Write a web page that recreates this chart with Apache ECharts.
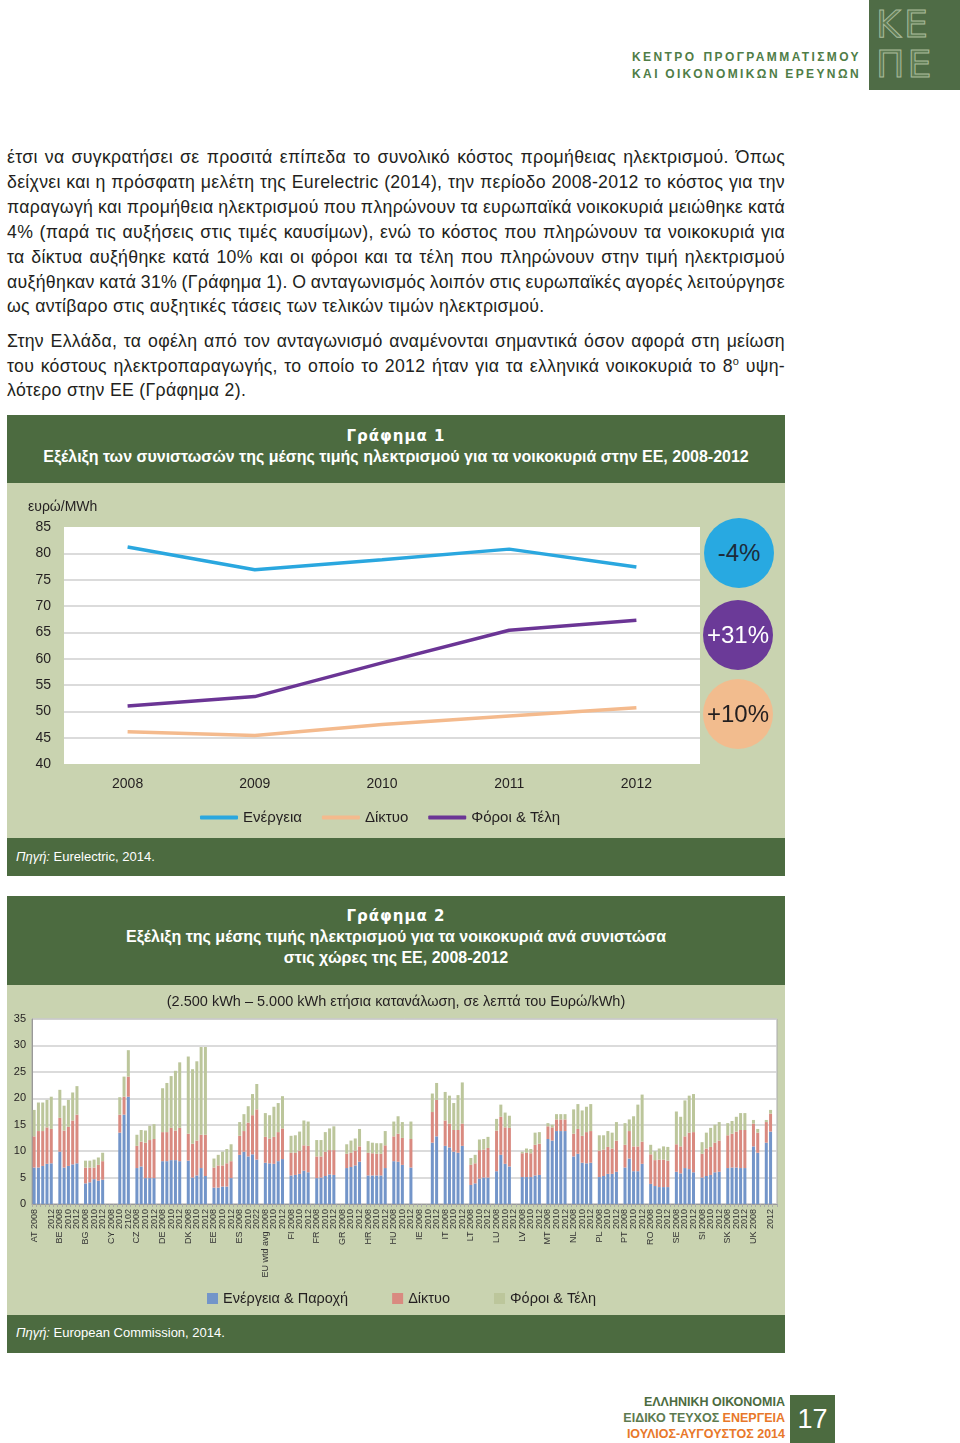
<!DOCTYPE html>
<html><head><meta charset="utf-8">
<script src="https://cdn.jsdelivr.net/npm/echarts@6/dist/echarts.min.js"></script>
<style>
html,body{margin:0;padding:0;background:#fff;}
body{width:960px;height:1443px;position:relative;overflow:hidden;font-family:'Liberation Sans',Arial,Helvetica,sans-serif;color:#231f20;}
.abs{position:absolute;}
.ln{position:absolute;left:7px;width:778px;font-size:17.7px;letter-spacing:0.3px;line-height:25px;height:25px;white-space:nowrap;text-align:left;}
.band{position:absolute;left:7px;width:778px;background:#4c6b40;color:#fff;}
.body{position:absolute;left:7px;width:778px;background:#c9d3b0;}
.gt{position:absolute;left:0;width:100%;text-align:center;font-family:'DejaVu Sans',sans-serif;font-weight:bold;font-size:15px;letter-spacing:1px;}
.st{position:absolute;left:0;width:100%;text-align:center;font-weight:bold;font-size:16px;}
.src{position:absolute;left:9px;font-size:13px;color:#fff;}
.circ{position:absolute;width:70px;height:70px;border-radius:50%;text-align:center;line-height:70px;font-size:24px;}
.hdr{position:absolute;left:632px;width:232px;font-size:12px;font-weight:bold;color:#4f7d47;letter-spacing:2.4px;white-space:nowrap;}
.ft{position:absolute;right:175px;font-size:12.5px;font-weight:bold;text-align:right;white-space:nowrap;}
</style>
</head><body>

<!-- header -->
<div class="abs" style="left:869px;top:0;width:91px;height:90px;background:#4f6c46;"></div>
<div class="abs" style="left:876px;top:4px;font-family:'DejaVu Sans',sans-serif;font-size:38px;line-height:40px;letter-spacing:3px;color:#5f7c54;-webkit-text-stroke:1px #a9bb9c;">ΚΕ<br>ΠΕ</div>
<div class="hdr fit" data-w="229" style="top:50px;">ΚΕΝΤΡΟ ΠΡΟΓΡΑΜΜΑΤΙΣΜΟΥ</div>
<div class="hdr fit" data-w="229" style="top:67px;">ΚΑΙ ΟΙΚΟΝΟΜΙΚΩΝ ΕΡΕΥΝΩΝ</div>

<!-- body text -->
<div class="ln fit" data-w="778" style="top:145px;">έτσι να συγκρατήσει σε προσιτά επίπεδα το συνολικό κόστος προμήθειας ηλεκτρισμού. Όπως</div>
<div class="ln fit" data-w="778" style="top:170px;">δείχνει και η πρόσφατη μελέτη της Eurelectric (2014), την περίοδο 2008-2012 το κόστος για την</div>
<div class="ln fit" data-w="778" style="top:195px;">παραγωγή και προμήθεια ηλεκτρισμού που πληρώνουν τα ευρωπαϊκά νοικοκυριά μειώθηκε κατά</div>
<div class="ln fit" data-w="778" style="top:220px;">4% (παρά τις αυξήσεις στις τιμές καυσίμων), ενώ το κόστος που πληρώνουν τα νοικοκυριά για</div>
<div class="ln fit" data-w="778" style="top:245px;">τα δίκτυα αυξήθηκε κατά 10% και οι φόροι και τα τέλη που πληρώνουν στην τιμή ηλεκτρισμού</div>
<div class="ln fit" data-w="778" style="top:270px;">αυξήθηκαν κατά 31% (Γράφημα 1). Ο ανταγωνισμός λοιπόν στις ευρωπαϊκές αγορές λειτούργησε</div>
<div class="ln" style="top:294px;">ως αντίβαρο στις αυξητικές τάσεις των τελικών τιμών ηλεκτρισμού.</div>
<div class="ln fit" data-w="778" style="top:329px;">Στην Ελλάδα, τα οφέλη από τον ανταγωνισμό αναμένονται σημαντικά όσον αφορά στη μείωση</div>
<div class="ln fit" data-w="778" style="top:354px;">του κόστους ηλεκτροπαραγωγής, το οποίο το 2012 ήταν για τα ελληνικά νοικοκυριά το 8<sup style="font-size:11px;line-height:0;">ο</sup> υψη-</div>
<div class="ln" style="top:378px;">λότερο στην ΕΕ (Γράφημα 2).</div>

<!-- chart 1 panel -->
<div class="band" style="top:415px;height:68px;">
  <div class="gt" style="top:12px;">Γράφημα 1</div>
  <div class="st" style="top:33px;">Εξέλιξη των συνιστωσών της μέσης τιμής ηλεκτρισμού για τα νοικοκυριά στην ΕΕ, 2008-2012</div>
</div>
<div id="c1" class="body" style="top:483px;height:355px;"></div>
<div class="band" style="top:838px;height:38px;"><div class="src" style="top:11px;"><i>Πηγή:</i> Eurelectric, 2014.</div></div>
<div class="circ" style="left:704px;top:518px;background:#28a9e1;color:#1d2b3a;">-4%</div>
<div class="circ" style="left:703px;top:600px;background:#6b3a98;color:#fff;">+31%</div>
<div class="circ" style="left:703px;top:679px;background:#f2bc8e;color:#231f20;">+10%</div>

<!-- chart 2 panel -->
<div class="band" style="top:896px;height:89px;">
  <div class="gt" style="top:11px;">Γράφημα 2</div>
  <div class="st" style="top:32px;">Εξέλιξη της μέσης τιμής ηλεκτρισμού για τα νοικοκυριά ανά συνιστώσα</div>
  <div class="st" style="top:53px;">στις χώρες της ΕΕ, 2008-2012</div>
</div>
<div id="c2" class="body" style="top:985px;height:330px;"></div>
<div class="band" style="top:1315px;height:38px;"><div class="src" style="top:10px;"><i>Πηγή:</i> European Commission, 2014.</div></div>

<!-- footer -->
<div class="ft" style="top:1395px;color:#4c6b40;">ΕΛΛΗΝΙΚΗ ΟΙΚΟΝΟΜΙΑ</div>
<div class="ft" style="top:1411px;color:#5d7a4f;">ΕΙΔΙΚΟ ΤΕΥΧΟΣ <span style="color:#e8782a;">ΕΝΕΡΓΕΙΑ</span></div>
<div class="ft" style="top:1427px;color:#e8782a;">ΙΟΥΛΙΟΣ-ΑΥΓΟΥΣΤΟΣ 2014</div>
<div class="abs" style="left:790px;top:1395px;width:45px;height:48px;background:#4c6b40;color:#fff;font-size:27px;line-height:48px;text-align:center;">17</div>

<script>
// justify text lines by word spacing
document.querySelectorAll('.fit').forEach(el => {
  const target = +el.dataset.w;
  const sp = document.createElement('span');
  sp.style.display = 'inline-block';
  while (el.firstChild) sp.appendChild(el.firstChild);
  el.appendChild(sp);
  const w = sp.getBoundingClientRect().width;
  const n = (el.textContent.match(/ /g) || []).length;
  if (n > 0) el.style.wordSpacing = ((target - w) / n) + 'px';
});

// ---------- Chart 1 data ----------
const years1 = ['2008', '2009', '2010', '2011', '2012'];
const energy1 = [81.2, 76.9, 78.8, 80.8, 77.4];
const network1 = [46.1, 45.4, 47.5, 49.1, 50.7];
const taxes1 = [51.0, 52.8, 59.2, 65.4, 67.3];
const yTicks1 = { min: 40, max: 85, interval: 5 };

// ---------- Chart 2 data ----------
const countries = ['AT','BE','BG','CY','CZ','DE','DK','EE','ES','EU wtd avg','FI','FR','GR','HR','HU','IE','IT','LT','LU','LV','MT','NL','PL','PT','RO','SE','SI','SK','UK'];
const yearSlots = ['2008', '2009', '2010', '2011', '2012', ''];
const labelFixes = [['CY', 4, '2102'], ['ES', 4, '2022']];
const energy2 = [
  [6.9,6.9,7.2,7.6,7.7],[9.9,6.9,7.2,7.5,7.7],[3.9,4.1,4.7,4.4,4.6],[null,null,13.5,16.9,20.3],
  [6.8,7.1,4.9,4.9,4.9],[8.1,8.1,8.3,8.3,8.1],[8.2,5.0,5.4,6.8,5.3],[3.1,3.1,3.3,3.3,4.9],
  [9.3,9.9,9.0,9.4,8.4],[7.8,7.7,7.6,8.1,8.5],[5.4,5.5,5.7,6.3,6.0],[4.9,5.0,5.3,5.6,5.5],
  [null,6.8,7.0,7.3,8.0],[5.4,5.4,5.4,5.4,6.8],[8.1,8.0,7.4,null,6.9],[null,null,null,11.6,12.8],
  [11.0,10.7,9.9,9.7,11.0],[3.6,3.9,4.8,5.0,5.0],[6.2,9.3,7.6,7.1,null],[5.1,5.1,5.1,5.4,5.5],
  [12.3,12.0,13.8,13.8,13.8],[9.0,9.5,7.8,7.7,7.8],[5.1,5.3,5.7,5.7,6.1],[6.9,8.6,6.2,6.2,7.6],
  [3.8,3.4,3.2,3.2,3.2],[6.1,5.8,6.8,6.6,6.0],[5.0,5.3,5.5,6.0,6.1],[6.8,6.9,6.9,6.8,6.8],
  [10.9,9.7,null,11.6,13.7]
];
const network2 = [
  [5.9,6.9,6.6,6.9,6.5],[6.4,7.0,7.4,8.3,9.2],[3.0,2.8,2.2,3.0,3.5],[null,null,3.4,3.4,3.8],
  [4.2,4.7,6.7,7.2,7.4],[5.5,5.5,6.1,5.6,6.3],[5.1,6.4,6.6,6.3,7.8],[3.8,4.2,4.0,4.4,3.2],
  [3.6,3.9,6.4,7.4,9.5],[4.9,4.7,5.1,5.5,5.8],[4.3,4.2,4.4,4.8,5.0],[4.1,4.0,4.6,4.6,4.7],
  [null,2.7,2.7,2.8,2.9],[4.3,4.2,4.1,4.1,4.3],[4.7,5.3,5.1,null,5.4],[null,null,null,5.8,6.9],
  [4.8,4.5,4.1,4.3,4.2],[3.8,3.8,5.4,5.3,5.6],[7.7,7.2,6.9,7.3,null],[4.5,4.6,4.5,5.8,5.9],
  [2.4,2.5,2.2,2.2,2.2],[4.3,4.7,5.1,5.9,6.0],[5.0,5.0,5.1,4.8,5.9],[4.3,5.2,4.7,4.7,4.2],
  [5.6,4.9,5.2,5.2,5.0],[5.2,5.1,6.0,6.9,7.6],[4.5,5.2,5.3,5.6,5.9],[6.2,6.4,6.8,7.2,7.2],
  [4.3,3.8,null,3.9,3.4]
];
const taxes2 = [
  [5.0,5.4,5.4,5.2,6.1],[5.3,4.7,5.1,5.3,5.4],[1.3,1.3,1.5,1.4,1.6],[null,null,3.3,3.8,5.0],
  [2.1,2.2,2.3,2.7,2.8],[8.3,9.3,9.8,11.3,12.4],[14.6,14.1,15.0,16.6,16.6],[1.7,2.0,2.6,2.7,3.2],
  [2.6,3.2,3.1,4.0,4.8],[4.5,4.4,5.7,5.5,6.1],[3.2,3.3,3.6,4.7,4.6],[3.1,3.1,3.7,4.1,4.5],
  [null,1.8,2.3,2.3,3.3],[2.2,2.0,2.0,2.0,2.7],[2.8,3.3,3.0,null,3.3],[null,null,null,3.5,3.2],
  [5.4,5.3,5.1,6.6,7.8],[1.3,1.6,2.0,2.0,2.1],[2.2,2.3,2.8,2.3,null],[0.3,0.8,0.8,2.3,2.2],
  [0.6,0.5,1.0,1.0,1.0],[4.6,4.7,4.8,4.8,5.1],[2.9,2.7,3.0,3.0,3.5],[4.1,2.2,5.7,7.9,8.9],
  [1.8,1.7,2.1,2.5,2.6],[6.2,5.6,6.8,7.0,7.2],[2.2,3.0,3.6,3.4,3.5],[2.3,2.4,2.8,3.2,3.2],
  [0.7,0.7,null,0.4,0.7]
];
const yTicks2 = { min: 0, max: 35, interval: 5 };

const FONT = "'Liberation Sans', Arial, Helvetica, sans-serif";
const TXT = '#231f20';

// build category axis (5 years + 1 spacer per country)
const cats2 = [], tickLabels2 = [];
const flat = (rows) => { const out = []; rows.forEach(r => { r.forEach(v => out.push(v)); out.push(null); }); return out; };
countries.forEach((c) => {
  yearSlots.forEach((y, k) => {
    cats2.push(c + '|' + k);
    let lab = y;
    labelFixes.forEach(f => { if (f[0] === c && f[1] === k) lab = f[2]; });
    if (k === 0) lab = c + ' ' + lab;
    tickLabels2.push(lab);
  });
});

const c1 = echarts.init(document.getElementById('c1'));
c1.setOption({
  animation: false,
  textStyle: { fontFamily: FONT },
  title: { text: 'ευρώ/MWh', left: 16, top: 12, textStyle: { fontSize: 14, fontWeight: 'normal', color: TXT, fontFamily: FONT } },
  grid: { left: 57, right: 85, top: 44, bottom: 74, show: true, backgroundColor: '#fff', borderWidth: 0 },
  xAxis: { type: 'category', data: years1, axisLine: { show: false }, axisTick: { show: false },
    axisLabel: { fontSize: 14, color: TXT, margin: 13 } },
  yAxis: { type: 'value', min: yTicks1.min, max: yTicks1.max, interval: yTicks1.interval,
    axisLine: { show: false }, axisTick: { show: false },
    axisLabel: { fontSize: 14, color: TXT, margin: 13 },
    splitLine: { showMinLine: false, showMaxLine: false, lineStyle: { color: '#cfcfcf', width: 1.5 } } },
  legend: { left: 188, top: 322, icon: 'roundRect', itemWidth: 38, itemHeight: 4, itemGap: 20,
    textStyle: { fontSize: 15, color: TXT } },
  series: [
    { name: 'Ενέργεια', type: 'line', data: energy1, symbol: 'none', color: '#2aa7df', lineStyle: { width: 3.5 } },
    { name: 'Δίκτυο', type: 'line', data: network1, symbol: 'none', color: '#f4ba8d', lineStyle: { width: 3.5 } },
    { name: 'Φόροι & Τέλη', type: 'line', data: taxes1, symbol: 'none', color: '#6b3595', lineStyle: { width: 3.5 } }
  ]
});

const c2 = echarts.init(document.getElementById('c2'));
c2.setOption({
  animation: false,
  textStyle: { fontFamily: FONT },
  title: { text: '(2.500 kWh – 5.000 kWh ετήσια κατανάλωση, σε λεπτά του Ευρώ/kWh)', left: 'center', top: 4,
    textStyle: { fontSize: 14.5, fontWeight: 'normal', color: TXT, fontFamily: FONT } },
  grid: { left: 25, right: 8, top: 34, bottom: 111, show: true, backgroundColor: '#fff', borderColor: '#a9a9a9', borderWidth: 1 },
  xAxis: { type: 'category', data: cats2,
    axisLine: { lineStyle: { color: '#999' } },
    axisTick: { show: true, interval: 0, length: 3, lineStyle: { color: '#aaa' } },
    axisLabel: { interval: (i) => i % 2 === 0, showMinLabel: true, showMaxLabel: true, hideOverlap: false,
      rotate: 90, fontSize: 9, margin: 5, color: '#333',
      formatter: (v) => tickLabels2[cats2.indexOf(v)] } },
  yAxis: { type: 'value', min: yTicks2.min, max: yTicks2.max, interval: yTicks2.interval,
    axisLine: { show: true, lineStyle: { color: '#999' } }, axisTick: { show: false },
    axisLabel: { fontSize: 11, color: TXT, margin: 6 },
    splitLine: { lineStyle: { color: '#cfcfcf', width: 1.5 } } },
  legend: { left: 195, top: 301, icon: 'rect', itemWidth: 11, itemHeight: 11, itemGap: 44,
    textStyle: { fontSize: 14.5, color: TXT } },
  series: [
    { name: 'Ενέργεια & Παροχή', type: 'bar', stack: 's', barWidth: 3, data: flat(energy2), color: '#7395c9' },
    { name: 'Δίκτυο', type: 'bar', stack: 's', barWidth: 3, data: flat(network2), color: '#d98a80' },
    { name: 'Φόροι & Τέλη', type: 'bar', stack: 's', barWidth: 3, data: flat(taxes2), color: '#bcc69b' }
  ]
});
</script>
</body></html>
